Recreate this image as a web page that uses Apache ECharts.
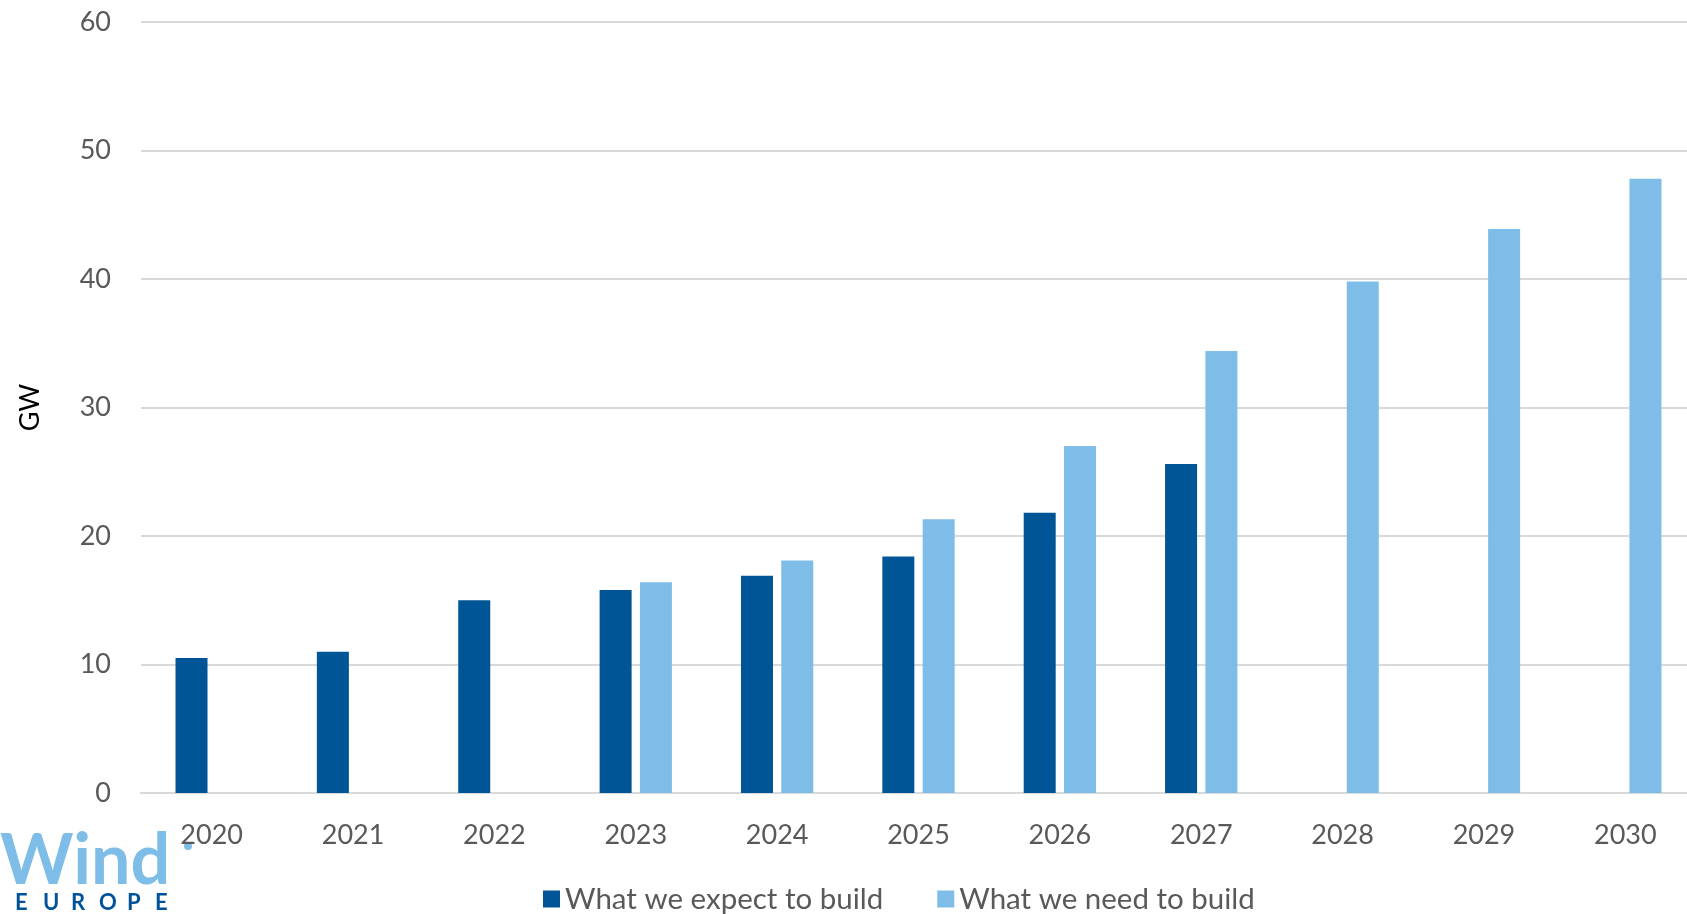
<!DOCTYPE html>
<html>
<head>
<meta charset="utf-8">
<script src="https://cdn.jsdelivr.net/npm/echarts@6/dist/echarts.min.js"></script>
<style>html,body{margin:0;padding:0;background:#fff}#c{width:1687px;height:914px}</style>
</head>
<body>
<div id="c"></div>
<script>
const years = ['2020','2021','2022','2023','2024','2025','2026','2027','2028','2029','2030'];
const expectBuild = [10.5, 11.0, 15.0, 15.8, 16.9, 18.4, 21.8, 25.6, null, null, null];
const needBuild = [null, null, null, 16.4, 18.1, 21.3, 27.0, 34.4, 39.8, 43.9, 47.8];
const seriesNames = ['What we expect to build', 'What we need to build'];
const yTicks = { min: 0, max: 60, interval: 10 };

const FONT = 'Lato, "Noto Sans", sans-serif';
const chart = echarts.init(document.getElementById('c'));
const logoLetters = ['E','U','R','O','P','E'];
const graphics = [
  { type: 'text', left: 0, top: 826, style: { text: 'Wind', font: 'bold 70px ' + FONT, fill: '#7DBDE8' } },
  { type: 'circle', shape: { cx: 188, cy: 846, r: 4 }, style: { fill: '#7DBDE8' } }
];
logoLetters.forEach((ch, i) => {
  graphics.push({ type: 'text', left: 15 + i * 28, top: 892, style: { text: ch, font: 'bold 22px ' + FONT, fill: '#00539B' } });
});

chart.setOption({
  animation: false,
  textStyle: { fontFamily: FONT },
  grid: { left: 141, top: 22, width: 1555, height: 771, containLabel: false, outerBoundsMode: 'none' },
  legend: {
    left: 538, top: 879,
    itemWidth: 17, itemHeight: 17, itemGap: 54,
    icon: 'rect',
    textStyle: { fontSize: 29.5, color: '#595959', fontFamily: FONT },
    data: seriesNames
  },
  xAxis: {
    type: 'category',
    data: years,
    axisLine: { show: true, lineStyle: { color: '#D9D9D9', width: 2 } },
    axisTick: { show: false },
    axisLabel: { fontSize: 27, color: '#595959', margin: 29, fontFamily: FONT }
  },
  yAxis: {
    type: 'value',
    min: yTicks.min, max: yTicks.max, interval: yTicks.interval,
    name: 'GW',
    nameLocation: 'middle',
    nameRotate: 90,
    nameGap: 97,
    nameTextStyle: { fontSize: 27, color: '#000', fontFamily: FONT },
    axisLine: { show: false },
    axisTick: { show: false },
    axisLabel: { fontSize: 27, color: '#595959', margin: 30, fontFamily: FONT },
    splitLine: { lineStyle: { color: '#D9D9D9', width: 2 } }
  },
  series: [
    { name: seriesNames[0], type: 'bar', data: expectBuild, barWidth: 32, barGap: '26%',
      itemStyle: { color: '#005596' } },
    { name: seriesNames[1], type: 'bar', data: needBuild, barWidth: 32,
      itemStyle: { color: '#7DBDE8' } }
  ],
  graphic: graphics
});
</script>
</body>
</html>
